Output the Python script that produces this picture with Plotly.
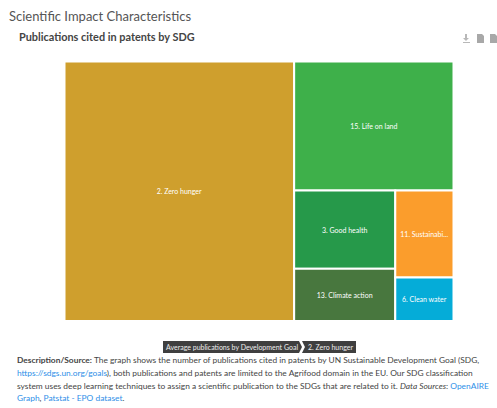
import plotly.graph_objects as go

WIDTH, HEIGHT = 497, 408

# Publications cited in patents, by Sustainable Development Goal
goals = ["2. Zero hunger", "15. Life on land", "3. Good health",
         "13. Climate action", "11. Sustainable cities", "6. Clean water"]
tile_text = ["2. Zero hunger", "15. Life on land", "3. Good health",
             "13. Climate action", "11. Sustainabi...", "6. Clean water"]
publications = [565, 195, 75, 50, 48, 24]
goal_colors = ["#CF9F2D", "#3EB04A", "#26994A", "#48773E", "#FB9D2C", "#05ACD8"]

root_label = "Average publications by Development Goal"
selected_goal = "2. Zero hunger"

heading = "Scientific Impact Characteristics"
chart_title = "Publications cited in patents by SDG"

LINK = "#2E8FE8"
description_lines = [
    "<b>Description/Source:</b> The graph shows the number of publications cited in patents by UN "
    "Sustainable Development Goal (SDG,",
    f'<span style="color:{LINK}">https://sdgs.un.org/goals</span>), both publications and patents are '
    "limited to the Agrifood domain in the EU. Our SDG classification",
    "system uses deep learning techniques to assign a scientific publication to the SDGs that are "
    f'related to it. <i>Data Sources</i>: <span style="color:{LINK}">OpenAIRE</span>',
    f'<span style="color:{LINK}">Graph</span>, <span style="color:{LINK}">Patstat - EPO dataset</span>.',
]
description_rows = [360, 373, 386, 398]


def px(x):
    return x / WIDTH


def py(y):
    return 1 - y / HEIGHT


def pixel_path(points, fill):
    """Closed polygon shape given in page pixels."""
    d = "M " + " L ".join(f"{px(x):.5f},{py(y):.5f}" for x, y in points) + " Z"
    return dict(type="path", xref="paper", yref="paper", path=d, fillcolor=fill, line=dict(width=0))


fig = go.Figure(
    go.Treemap(
        labels=goals,
        parents=[""] * len(goals),
        values=publications,
        text=tile_text,
        texttemplate="%{text}",
        textposition="middle center",
        textfont=dict(family="Lato", size=7, color="white"),
        sort=True,
        tiling=dict(packing="squarify", squarifyratio=1, pad=0),
        marker=dict(colors=goal_colors, line=dict(color="white", width=2), pad=dict(t=0, l=0, r=0, b=0)),
        pathbar=dict(visible=False),
        domain=dict(x=[px(64.5), px(453.5)], y=[py(321), py(61.5)]),
        hoverinfo="label+value",
    )
)

shapes = [
    # breadcrumb under the treemap
    pixel_path([(163, 341), (299, 341), (302, 347), (299, 353), (163, 353)], "#3F3F3F"),
    pixel_path([(302, 341), (356, 341), (356, 353), (302, 353), (305, 347)], "#3F3F3F"),
]

# export icons in the chart's top-right corner
ICON = "#B8B8B8"
shapes.append(pixel_path([(465, 34), (467, 34), (467, 38), (469, 38), (466, 41), (463, 38), (465, 38)], ICON))
shapes.append(pixel_path([(463, 42), (470, 42), (470, 43), (463, 43)], ICON))
for left in (477, 490):
    shapes.append(pixel_path([(left, 34), (left + 5, 34), (left + 7, 36), (left + 7, 43), (left, 43)], "#A8A8A8"))

annotations = [
    dict(text=heading, x=px(7), y=py(16), xanchor="left", yanchor="middle", showarrow=False,
         font=dict(family="Lato", size=13, color="#555555")),
    dict(text=f"<b>{chart_title}</b>", x=px(17), y=py(36), xanchor="left", yanchor="middle", showarrow=False,
         font=dict(family="Lato", size=10.9, color="#444444")),
    dict(text=root_label, x=px(232), y=py(347), xanchor="center", yanchor="middle", showarrow=False,
         font=dict(family="Lato", size=7, color="#EEEEEE")),
    dict(text=selected_goal, x=px(330), y=py(347), xanchor="center", yanchor="middle", showarrow=False,
         font=dict(family="Lato", size=7, color="#EEEEEE")),
]
for line, row in zip(description_lines, description_rows):
    annotations.append(dict(text=line, x=px(15), y=py(row), xanchor="left", yanchor="middle", align="left",
                            showarrow=False, font=dict(family="Lato", size=8.4, color="#444444")))

fig.update_layout(
    width=WIDTH,
    height=HEIGHT,
    margin=dict(l=0, r=0, t=0, b=0),
    paper_bgcolor="white",
    shapes=shapes,
    annotations=annotations,
    showlegend=False,
)
for a in fig.layout.annotations:
    a.xref = "paper"
    a.yref = "paper"

fig.write_html("out.html", config={"displayModeBar": False})
